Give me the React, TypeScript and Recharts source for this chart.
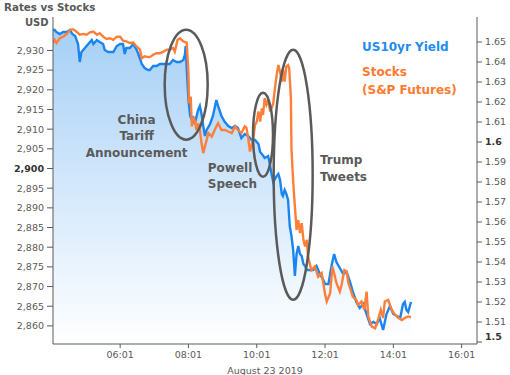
import React from 'react';
import { ComposedChart, Area, Line, XAxis, YAxis, ReferenceDot } from 'recharts';

// minutes after midnight, August 23 2019
const blueTimes = [243,246,249,255,261,267,273,277,282,287,290,293,299,305,311,314,320,325,331,334,340,349,355,361,366,369,372,378,384,390,393,399,404,410,413,419,425,431,440,448,454,460,466,472,475,476,479,481,484,487,489,492,498,501,504,507,510,513,519,524,530,533,539,545,551,557,563,568,574,580,586,592,598,604,607,610,615,621,624,627,630,636,639,642,645,647,650,653,656,659,662,665,668,671,674,677,680,683,686,689,694,700,706,712,718,721,727,733,737,741,747,753,759,765,770,776,782,788,794,800,806,812,817,820,823,829,835,841,847,853,858,861,864,867,872];
const yieldValues = [1.656,1.656,1.655,1.654,1.655,1.655,1.656,1.654,1.653,1.649,1.640,1.645,1.647,1.649,1.651,1.649,1.651,1.650,1.649,1.646,1.645,1.645,1.648,1.649,1.649,1.644,1.647,1.647,1.649,1.646,1.644,1.639,1.637,1.636,1.636,1.638,1.638,1.639,1.639,1.639,1.641,1.640,1.640,1.641,1.644,1.648,1.631,1.621,1.613,1.611,1.613,1.609,1.616,1.618,1.614,1.608,1.603,1.606,1.609,1.613,1.621,1.618,1.613,1.610,1.608,1.607,1.608,1.607,1.602,1.604,1.603,1.601,1.601,1.599,1.595,1.594,1.592,1.593,1.589,1.584,1.580,1.583,1.584,1.581,1.574,1.573,1.576,1.574,1.571,1.558,1.553,1.546,1.533,1.544,1.548,1.544,1.543,1.539,1.538,1.536,1.536,1.536,1.538,1.534,1.531,1.529,1.529,1.539,1.544,1.540,1.537,1.534,1.535,1.530,1.525,1.520,1.517,1.519,1.514,1.509,1.510,1.509,1.512,1.509,1.506,1.514,1.518,1.514,1.513,1.512,1.519,1.520,1.516,1.515,1.520];

const stockTimes = [243,246,249,255,261,267,273,278,284,290,296,302,308,314,320,325,331,337,343,349,355,361,366,372,378,384,390,396,399,404,410,413,419,425,431,437,443,448,454,457,462,466,472,478,481,482,485,487,489,492,495,498,501,504,507,510,516,522,527,533,539,545,551,557,563,568,574,580,583,586,589,592,595,598,601,604,607,610,612,615,618,621,624,627,630,633,636,639,642,645,647,650,653,656,658,661,662,665,668,671,674,677,680,683,686,689,691,697,703,709,715,721,724,730,734,737,741,747,750,755,759,762,765,770,776,779,785,790,794,797,803,809,814,819,823,826,832,838,844,850,856,861,867,872];
const stockValues = [2931.9,2932.7,2931.9,2933.1,2933.5,2934.2,2935.2,2935.4,2934.8,2934.0,2934.2,2934.0,2934.6,2934.8,2934.0,2934.4,2933.5,2932.9,2933.1,2932.7,2933.5,2933.5,2932.5,2932.3,2931.9,2932.0,2931.0,2930.2,2928.0,2928.5,2928.3,2928.3,2928.9,2929.3,2929.3,2929.7,2930.2,2930.2,2930.6,2929.7,2932.7,2933.1,2932.3,2932.0,2924.2,2916.6,2918.3,2910.7,2912.8,2912.4,2909.8,2911.5,2909.8,2906.4,2903.9,2905.6,2909.0,2908.1,2909.8,2911.5,2909.8,2909.8,2909.4,2909.0,2910.7,2909.8,2909.0,2910.7,2910.3,2907.7,2904.3,2906.0,2907.7,2911.1,2911.9,2914.5,2911.9,2915.3,2913.6,2917.9,2916.2,2917.4,2914.9,2915.3,2916.6,2920.4,2923.8,2926.3,2924.6,2922.1,2925.1,2922.1,2925.9,2926.3,2925.5,2917.9,2905.2,2896.7,2890.3,2884.4,2886.9,2883.6,2886.1,2881.9,2880.2,2881.9,2877.6,2874.2,2875.1,2872.5,2873.4,2868.1,2866.2,2868.3,2875.1,2873.4,2870.9,2868.7,2870.4,2874.2,2873.8,2870.9,2869.6,2867.4,2866.6,2865.3,2866.2,2864.1,2868.7,2862.4,2859.8,2859.4,2861.5,2864.1,2862.0,2866.2,2866.6,2864.1,2862.8,2862.0,2861.5,2862.0,2862.4,2862.2];

const timeTicks = [361, 481, 601, 721, 841, 961];
const timeLabels = ['06:01', '08:01', '10:01', '12:01', '14:01', '16:01'];
const stockTicks = [2860,2865,2870,2875,2880,2885,2890,2895,2900,2905,2910,2915,2920,2925,2930];
const yieldTicks = [1.5,1.51,1.52,1.53,1.54,1.55,1.56,1.57,1.58,1.59,1.6,1.61,1.62,1.63,1.64,1.65];

const blueData = blueTimes.map((t, i) => ({ t, y: yieldValues[i] }));
const orangeData = stockTimes.map((t, i) => ({ t, s: stockValues[i] }));

const BLUE = '#1a84ef';
const ORANGE = '#ff7f3a';
const GREY = '#5a5a5a';
const FONT = '"DejaVu Sans", Verdana, sans-serif';

// annotation anchors (data coordinates on the time / stock axes)
const ellipses = [
  { t: 477, v: 2921.3, rx: 21.5, ry: 55 },
  { t: 612, v: 2908.6, rx: 10, ry: 42 },
  { t: 665, v: 2898.4, rx: 19.5, ry: 125 },
];
const notes = [
  { t: 390, v: 2912.4, lines: ['China', 'Tariff', 'Announcement'], anchor: 'middle', color: GREY, lh: 16.3 },
  { t: 515, v: 2900.2, lines: ['Powell', 'Speech'], anchor: 'start', color: GREY, lh: 16.3 },
  { t: 712, v: 2902.2, lines: ['Trump', 'Tweets'], anchor: 'start', color: GREY, lh: 16.8 },
  { t: 786, v: 2930.9, lines: ['US10yr Yield'], anchor: 'start', color: '#1f8cf2', lh: 18 },
  { t: 786, v: 2924.6, lines: ['Stocks', '(S&P Futures)'], anchor: 'start', color: '#ff7a30', lh: 18 },
];

const LeftTick = (props: any) => {
  const { x, y, payload } = props;
  const b = payload.value === 2900;
  return (
    <text x={x} y={y} dy="0.355em" textAnchor="end" fontSize={9.5} fontFamily={FONT}
      fill={b ? '#333' : '#595959'} fontWeight={b ? 'bold' : 'normal'}>
      {Number(payload.value).toLocaleString('en-US')}
    </text>
  );
};

const RightTick = (props: any) => {
  const { x, y, payload } = props;
  const v = Number(payload.value);
  const b = Math.abs(v - 1.6) < 1e-6 || Math.abs(v - 1.5) < 1e-6;
  const shift = Math.abs(v - 1.5) < 1e-6 ? -5 : 0;
  return (
    <text x={x} y={y + shift} dy="0.355em" textAnchor="start" fontSize={9.5} fontFamily={FONT}
      fill={b ? '#333' : '#595959'} fontWeight={b ? 'bold' : 'normal'}>
      {String(Number(v.toFixed(2)))}
    </text>
  );
};

export default function App() {
  return (
    <div style={{ position: 'absolute', left: 0, top: 0, width: 510, height: 375, background: '#fff' }}>
      <div style={{ position: 'absolute', left: 4, top: 1, fontFamily: FONT, fontWeight: 'bold', fontSize: 10.3, color: '#595959', lineHeight: '12px' }}>
        Rates vs Stocks
      </div>
      <div style={{ position: 'absolute', left: 25, top: 17, fontFamily: FONT, fontWeight: 'bold', fontSize: 10, color: '#595959', lineHeight: '12px' }}>
        USD
      </div>
      <ComposedChart width={510} height={375} margin={{ top: 17, right: 0, bottom: 0, left: 0 }}>
        <defs>
          <linearGradient id="blueFill" x1="0" y1="0" x2="0" y2="1">
            <stop offset="0%" stopColor="#a6d0f6" />
            <stop offset="55%" stopColor="#d8eafb" />
            <stop offset="100%" stopColor="#ffffff" />
          </linearGradient>
        </defs>
        <XAxis xAxisId={0} dataKey="t" type="number" domain={[243, 988]} allowDataOverflow
          ticks={timeTicks} tickFormatter={(v: number) => timeLabels[timeTicks.indexOf(v)] ?? ''}
          height={31} tickSize={4} tickMargin={3}
          stroke={GREY} tick={{ fontSize: 9.5, fontFamily: FONT, fill: '#595959' }}
          label={{ value: 'August 23 2019', position: 'insideBottom', offset: 1, fontSize: 9.5, fontFamily: FONT, fill: '#595959' }} />
        <XAxis xAxisId="top" orientation="top" dataKey="t" type="number" domain={[243, 988]} height={0}
          tick={false} tickLine={false} stroke={GREY} />
        <YAxis yAxisId="left" orientation="left" width={53} domain={[2855.4, 2938.5]} allowDataOverflow
          ticks={stockTicks} interval={0} stroke={GREY} tickSize={6} tickMargin={3} tick={<LeftTick />} />
        <YAxis yAxisId="right" orientation="right" width={33} domain={[1.499, 1.6625]} allowDataOverflow
          ticks={yieldTicks} interval={0} stroke={GREY} tickSize={5} tickMargin={3} tick={<RightTick />} />
        <Area data={blueData} dataKey="y" xAxisId={0} yAxisId="right" type="linear"
          stroke={BLUE} strokeWidth={2.4} fill="url(#blueFill)" fillOpacity={1}
          dot={false} activeDot={false} isAnimationActive={false} />
        <Line data={orangeData} dataKey="s" xAxisId={0} yAxisId="left" type="linear"
          stroke={ORANGE} strokeWidth={2.4} dot={false} activeDot={false} isAnimationActive={false} />
        {ellipses.map((e, i) => (
          <ReferenceDot key={'e' + i} xAxisId={0} yAxisId="left" x={e.t} y={e.v} r={1}
            shape={(p: any) => (
              <ellipse cx={p.cx} cy={p.cy} rx={e.rx} ry={e.ry} fill="none" stroke={GREY} strokeWidth={2.5} />
            )} />
        ))}
        {notes.map((n, i) => (
          <ReferenceDot key={'n' + i} xAxisId={0} yAxisId="left" x={n.t} y={n.v} r={1}
            shape={(p: any) => (
              <text x={p.cx} y={p.cy} textAnchor={n.anchor} fontFamily={FONT} fontWeight="bold" fontSize={12} fill={n.color}>
                {n.lines.map((l, j) => (
                  <tspan key={j} x={p.cx} dy={j === 0 ? '0.35em' : n.lh}>{l}</tspan>
                ))}
              </text>
            )} />
        ))}
      </ComposedChart>
    </div>
  );
}
